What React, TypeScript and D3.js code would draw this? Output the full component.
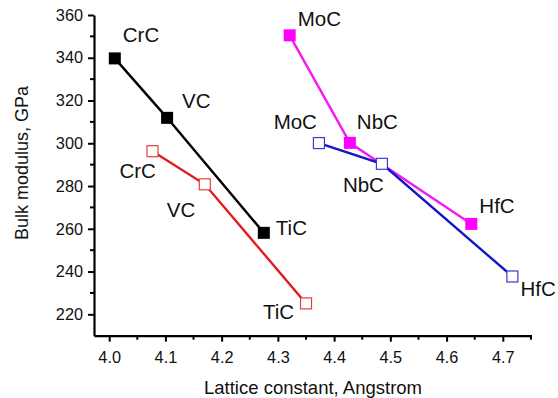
import * as d3 from 'd3';
import React, { useEffect, useRef } from 'react';

// lattice constant (Angstrom) and bulk modulus (GPa) per series
const group1Names = ['CrC', 'VC', 'TiC'];
const group2Names = ['MoC', 'NbC', 'HfC'];

const blackX = [4.01, 4.103, 4.275];
const blackY = [339.7, 311.9, 258.1];
const redX = [4.077, 4.17, 4.35];
const redY = [296.3, 280.8, 225.1];
const magentaX = [4.321, 4.428, 4.644];
const magentaY = [350.5, 300.2, 262.3];
const blueX = [4.373, 4.485, 4.717];
const blueY = [300.1, 290.4, 237.7];

const xTicks = [4.0, 4.1, 4.2, 4.3, 4.4, 4.5, 4.6, 4.7];
const yTicks = [220, 240, 260, 280, 300, 320, 340, 360];

const FONT = '"Liberation Sans", Arial, sans-serif';

const App = () => {
  const ref = useRef<SVGSVGElement>(null);

  useEffect(() => {
    const width = 558;
    const height = 398;
    const svg = d3.select(ref.current).attr('width', width).attr('height', height);
    svg.selectAll('*').remove();

    const x = d3.scaleLinear().domain([3.973, 4.751]).range([94, 531.5]);
    const y = d3.scaleLinear().domain([210, 360]).range([335.7, 15]);

    // axes
    const xAxis = svg.append('g').attr('transform', `translate(0, ${y(210)})`);
    xAxis.call(
      d3.axisBottom(x).tickValues(xTicks).tickFormat(d3.format('.1f')).tickSize(6).tickSizeOuter(0)
    );
    // minor ticks
    xAxis
      .append('g')
      .selectAll('line')
      .data(d3.range(4.05, 4.76, 0.1))
      .enter()
      .append('line')
      .attr('x1', (d) => x(d))
      .attr('x2', (d) => x(d))
      .attr('y1', 0)
      .attr('y2', 4)
      .attr('stroke', '#000')
      .attr('stroke-width', 2);

    const yAxis = svg.append('g').attr('transform', `translate(${x(3.973)}, 0)`);
    yAxis.call(d3.axisLeft(y).tickValues(yTicks).tickSize(6).tickSizeOuter(0));
    yAxis
      .append('g')
      .selectAll('line')
      .data(d3.range(230, 360, 20))
      .enter()
      .append('line')
      .attr('x1', 0)
      .attr('x2', -4)
      .attr('y1', (d) => y(d))
      .attr('y2', (d) => y(d))
      .attr('stroke', '#000')
      .attr('stroke-width', 2);

    [xAxis, yAxis].forEach((a) => {
      a.selectAll('.domain').attr('stroke-width', 2.2);
      a.selectAll('.tick line').attr('stroke-width', 2);
      a.selectAll('.tick text')
        .attr('font-family', FONT)
        .attr('font-size', 16.3)
        .attr('fill', '#111');
    });
    xAxis.selectAll('.tick text').attr('dy', '1.0em').attr('y', 11);
    yAxis.selectAll('.tick text').attr('x', -11);

    svg
      .append('text')
      .attr('x', 313)
      .attr('y', 394)
      .attr('text-anchor', 'middle')
      .attr('font-family', FONT)
      .attr('font-size', 18.5)
      .attr('fill', '#111')
      .text('Lattice constant, Angstrom');

    svg
      .append('text')
      .attr('transform', 'translate(28, 163) rotate(-90)')
      .attr('text-anchor', 'middle')
      .attr('font-family', FONT)
      .attr('font-size', 18)
      .attr('fill', '#111')
      .text('Bulk modulus, GPa');

    const series = [
      { xs: blackX, ys: blackY, names: group1Names, line: '#000', fill: '#000', stroke: '#000',
        offsets: [[8, -16, 'start'], [15, -10, 'start'], [12, 2, 'start']] },
      { xs: redX, ys: redY, names: group1Names, line: '#e3191c', fill: '#fff', stroke: '#e34040',
        offsets: [[-33, 27, 'start'], [-38, 33, 'start'], [-43, 16, 'start']] },
      { xs: magentaX, ys: magentaY, names: group2Names, line: '#f21cf2', fill: '#ff00ff', stroke: '#ff00ff',
        offsets: [[8, -9, 'start'], [7, -14, 'start'], [8, -11, 'start']] },
      { xs: blueX, ys: blueY, names: group2Names, line: '#1414c8', fill: '#fff', stroke: '#3a3ad0',
        offsets: [[-2, -14, 'end'], [-39, 28, 'start'], [8, 20, 'start']] }
    ];

    series.forEach((s) => {
      const pts = s.xs.map((v, i) => [x(v), y(s.ys[i])] as [number, number]);
      const g = svg.append('g');
      g.append('path')
        .attr('d', d3.line()(pts))
        .attr('fill', 'none')
        .attr('stroke', s.line)
        .attr('stroke-width', 2.4);
      const open = s.fill === '#fff';
      const size = open ? 11 : 12;
      g.selectAll('rect')
        .data(pts)
        .enter()
        .append('rect')
        .attr('x', (d) => d[0] - size / 2)
        .attr('y', (d) => d[1] - size / 2)
        .attr('width', size)
        .attr('height', size)
        .attr('fill', s.fill)
        .attr('stroke', s.stroke)
        .attr('stroke-width', open ? 1.2 : 0);
      g.selectAll('text')
        .data(pts)
        .enter()
        .append('text')
        .attr('x', (d, i) => d[0] + (s.offsets[i][0] as number))
        .attr('y', (d, i) => d[1] + (s.offsets[i][1] as number))
        .attr('text-anchor', (d, i) => s.offsets[i][2] as string)
        .attr('font-family', FONT)
        .attr('font-size', 20.5)
        .attr('fill', '#111')
        .text((d, i) => s.names[i]);
    });
  }, []);

  return (
    <div style={{ position: 'fixed', left: 0, top: 0, background: '#fff' }}>
      <svg ref={ref} style={{ display: 'block' }} />
    </div>
  );
};

export default App;
